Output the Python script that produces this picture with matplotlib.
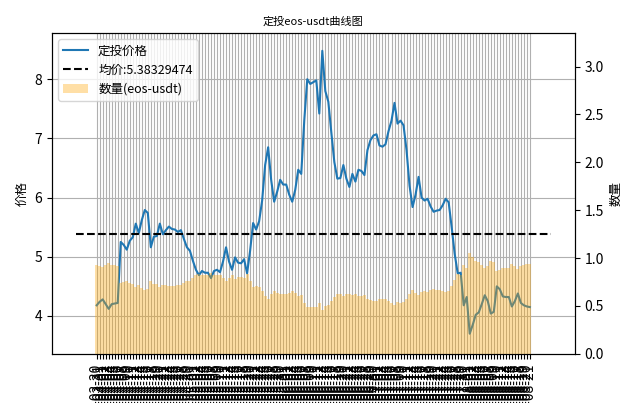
import pandas as pd
import matplotlib
matplotlib.use("Agg")
import matplotlib.pyplot as plt
from matplotlib import font_manager

# find an installed CJK family
cjk = [f.name for f in font_manager.fontManager.ttflist if "CJK" in f.name]
cjk = sorted(set(cjk), key=lambda n: (0 if "SC" in n else 1, n))
plt.rcParams["font.family"] = (cjk[:1] if cjk else []) + ["DejaVu Sans"]
plt.rcParams["axes.unicode_minus"] = False

PRICES = [4.18, 4.24, 4.28, 4.20, 4.12, 4.20, 4.21, 4.22, 5.25, 5.20, 5.12, 5.27, 5.33, 5.56, 5.40,
          5.62, 5.79, 5.74, 5.16, 5.34, 5.35, 5.56, 5.38, 5.45, 5.51, 5.47, 5.46, 5.42, 5.45, 5.30,
          5.16, 5.10, 4.93, 4.78, 4.69, 4.76, 4.73, 4.73, 4.64, 4.76, 4.78, 4.74, 4.92, 5.16, 4.92,
          4.78, 4.99, 4.90, 4.89, 4.96, 4.72, 5.10, 5.57, 5.46, 5.60, 5.95, 6.55, 6.85, 6.30, 5.93,
          6.10, 6.30, 6.22, 6.22, 6.05, 5.93, 6.13, 6.47, 6.40, 7.30, 8.00, 7.92, 7.95, 7.98, 7.42,
          8.48, 7.80, 7.62, 7.10, 6.60, 6.32, 6.33, 6.55, 6.32, 6.18, 6.40, 6.27, 6.47, 6.45, 6.38,
          6.80, 6.97, 7.05, 7.07, 6.88, 6.86, 6.90, 7.12, 7.30, 7.60, 7.25, 7.30, 7.22, 6.80, 6.20,
          5.84, 6.05, 6.35, 6.00, 5.95, 5.98, 5.85, 5.76, 5.78, 5.79, 5.87, 5.98, 5.92, 5.50, 5.05,
          4.72, 4.73, 4.18, 4.32, 3.70, 3.85, 4.02, 4.06, 4.20, 4.35, 4.25, 4.04, 4.07, 4.50, 4.45,
          4.33, 4.32, 4.32, 4.16, 4.25, 4.38, 4.22, 4.18, 4.16, 4.15]

QUANTITY = [0.93, 0.92, 0.91, 0.93, 0.95, 0.93, 0.93, 0.92, 0.74, 0.75, 0.76, 0.74, 0.73, 0.70, 0.72,
            0.69, 0.67, 0.68, 0.76, 0.73, 0.73, 0.70, 0.72, 0.72, 0.71, 0.71, 0.71, 0.72, 0.72, 0.74,
            0.76, 0.76, 0.79, 0.82, 0.83, 0.82, 0.82, 0.82, 0.84, 0.82, 0.82, 0.82, 0.79, 0.76, 0.79,
            0.82, 0.78, 0.80, 0.80, 0.79, 0.83, 0.76, 0.70, 0.71, 0.70, 0.66, 0.60, 0.57, 0.62, 0.66,
            0.64, 0.62, 0.63, 0.63, 0.64, 0.66, 0.64, 0.60, 0.61, 0.53, 0.49, 0.49, 0.49, 0.49, 0.53,
            0.46, 0.50, 0.51, 0.55, 0.59, 0.62, 0.62, 0.60, 0.62, 0.63, 0.61, 0.62, 0.60, 0.60, 0.61,
            0.57, 0.56, 0.55, 0.55, 0.57, 0.57, 0.57, 0.55, 0.53, 0.51, 0.54, 0.53, 0.54, 0.57, 0.63,
            0.67, 0.64, 0.61, 0.65, 0.66, 0.65, 0.67, 0.68, 0.67, 0.67, 0.66, 0.65, 0.66, 0.71, 0.77,
            0.83, 0.82, 0.93, 0.90, 1.05, 1.01, 0.97, 0.96, 0.93, 0.90, 0.92, 0.97, 0.96, 0.87, 0.88,
            0.90, 0.90, 0.90, 0.94, 0.92, 0.89, 0.92, 0.93, 0.94, 0.94]

AVG_PRICE = 5.38329474
DATES = pd.date_range("2021-03-30", periods=len(PRICES), freq="D").strftime("%Y-%m-%d").tolist()

x = list(range(len(PRICES)))

fig, ax = plt.subplots(figsize=(6.4, 4.03), dpi=100)
ax2 = ax.twinx()

l1, = ax.plot(x, PRICES, color="#1f77b4", lw=1.5, label="定投价格")
l2 = ax.hlines(AVG_PRICE, -7, len(PRICES) + 6, colors="black", linestyles="--", lw=1.5,
               label=f"均价:{AVG_PRICE}")
b = ax2.bar(x, QUANTITY, width=1.0, color="orange", alpha=0.35, label="数量(eos-usdt)")

ax.set_xticks(x)
ax.set_xticklabels(DATES, rotation=90, fontsize=10)
ax.grid(True, color="#b0b0b0", lw=0.8)
ax.set_ylim(3.36, 8.78)
ax2.set_ylim(0, 3.35)
ax.set_ylabel("价格", fontsize=9)
ax2.set_ylabel("数量", fontsize=9)
ax.tick_params(axis="y", labelsize=10)
ax2.tick_params(axis="y", labelsize=10)
ax.set_title("定投eos-usdt曲线图", fontsize=8)

ax2.legend([l1, l2, b], [l1.get_label(), l2.get_label(), b.get_label()], loc="upper left", fontsize=9)

fig.subplots_adjust(left=0.081, right=0.898, top=0.918, bottom=0.122)
fig.savefig("out.png", dpi=100)
